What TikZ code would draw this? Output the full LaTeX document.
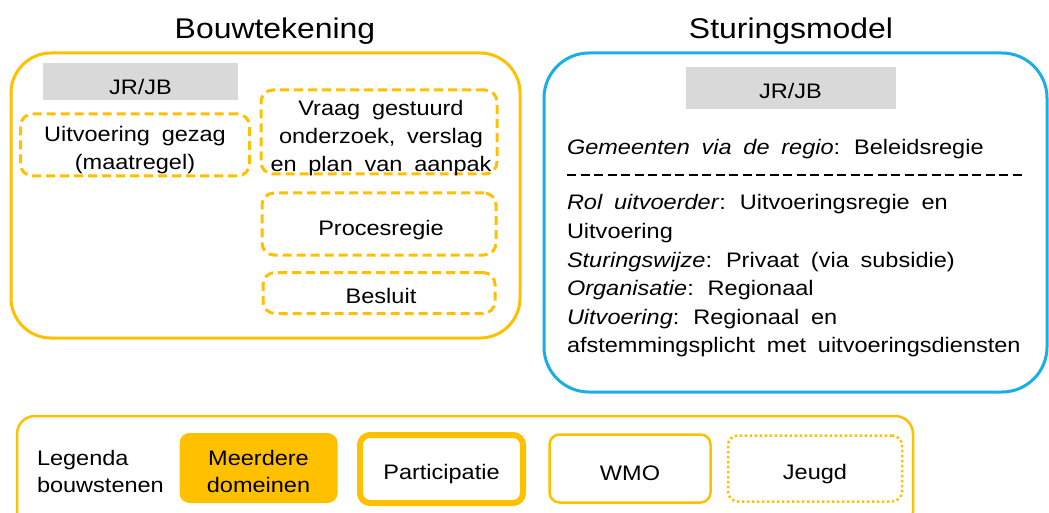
\documentclass[tikz,border=0pt]{standalone}
\usepackage{fontspec}
\setmainfont{Liberation Sans}[FakeStretch=1.12,WordSpace=1.8]
\begin{document}
\begin{tikzpicture}[x=1pt,y=-1pt,
  every node/.style={inner sep=0pt,outer sep=0pt},
  txt/.style={font=\fontsize{21}{28.4}\selectfont},
  ttl/.style={font=\fontsize{28.5}{32}\selectfont},
  bigbox/.style={draw=orgc,line width=3pt,rounded corners=40pt},
  dbox/.style={draw=orgc,line width=3pt,dash pattern=on 9pt off 5pt,rounded corners=12pt},
  btxt/.style={txt,align=center,anchor=base},
  greybox/.style={fill=greyc},
  legbox/.style={rounded corners=10pt}
]
\definecolor{orgc}{HTML}{FFC000}
\definecolor{bluec}{HTML}{1AAEE8}
\definecolor{greyc}{HTML}{D9D9D9}
\useasboundingbox (0,0) rectangle (1049,513);

% titles
\node[ttl,anchor=base] (t1) at (275,39) {Bouwtekening};
\node[ttl,anchor=base] (t2) at (791,39) {Sturingsmodel};

% left box
\draw[bigbox] (11,53) rectangle (520,338);
\node[greybox,minimum width=195pt,minimum height=37pt] (jr1) at (140.5,82) {};
\node[btxt] (jr1t) at (140.5,95) {JR/JB};

\node[dbox,minimum width=229pt,minimum height=62pt] (uit) at (135,145) {};
\node[btxt] (uitt) at (135,142) {Uitvoering gezag};
\node[btxt] (uitt2) at (135,169.5) {(maatregel)};

\node[dbox,minimum width=236pt,minimum height=84pt] (vraag) at (379,132) {};
\node[btxt] (vr1) at (381,116) {Vraag gestuurd};
\node[btxt] (vr2) at (381,143.5) {onderzoek, verslag};
\node[btxt] (vr3) at (381,171.5) {en plan van aanpak};

\node[dbox,minimum width=234pt,minimum height=62pt] (proc) at (379,224) {};
\node[btxt] (proct) at (381,235.5) {Procesregie};

\node[dbox,minimum width=232pt,minimum height=41pt] (bes) at (379,293) {};
\node[btxt] (best) at (381,303.5) {Besluit};

% right box
\draw[draw=bluec,line width=3pt,rounded corners=45pt] (544,53) rectangle (1047,392);
\node[greybox,minimum width=210pt,minimum height=42pt] (jr2) at (790.5,88) {};
\node[btxt] (jr2t) at (790.5,99) {JR/JB};
\node[txt,anchor=base west] (gem) at (567,155) {\textit{Gemeenten via de regio}: Beleidsregie};
\coordinate (dl) at (567,175);
\coordinate (dr) at (1026,175);
\draw[line width=1.3pt,dash pattern=on 9pt off 4.5pt] (dl) -- (dr);
\node[txt,anchor=base west] (r1) at (567,210) {\textit{Rol uitvoerder}: Uitvoeringsregie en};
\node[txt,anchor=base west] (r2) at (567,238.5) {Uitvoering};
\node[txt,anchor=base west] (r3) at (567,267) {\textit{Sturingswijze}: Privaat (via subsidie)};
\node[txt,anchor=base west] (r4) at (567,295.5) {\textit{Organisatie}: Regionaal};
\node[txt,anchor=base west] (r5) at (567,324) {\textit{Uitvoering}: Regionaal en};
\node[txt,anchor=base west] (r6) at (567,352) {afstemmingsplicht met uitvoeringsdiensten};

% legend
\draw[draw=orgc,line width=2.5pt,rounded corners=18pt] (17,416) rectangle (913,530);
\node[txt,anchor=base west] (leg1) at (37,465) {Legenda};
\node[txt,anchor=base west] (leg2) at (37,492.5) {bouwstenen};
\node[legbox,fill=orgc,minimum width=158pt,minimum height=70pt] (meer) at (258.5,468) {};
\node[btxt] (meer1) at (258.5,465.5) {Meerdere};
\node[btxt] (meer2) at (258.5,492.5) {domeinen};
\node[legbox,draw=orgc,line width=6pt,minimum width=163pt,minimum height=68pt] (part) at (441.5,469) {};
\node[btxt] (partt) at (441.5,479) {Participatie};
\node[legbox,draw=orgc,line width=2.5pt,minimum width=161pt,minimum height=68pt] (wmo) at (630,468.5) {};
\node[btxt] (wmot) at (630,480) {WMO};
\node[legbox,draw=orgc,line width=2.5pt,dash pattern=on 2.5pt off 2.5pt,minimum width=174pt,minimum height=66pt] (jeugd) at (815,468.5) {};
\node[btxt] (jeugdt) at (815,479.5) {Jeugd};
\end{tikzpicture}
\end{document}
